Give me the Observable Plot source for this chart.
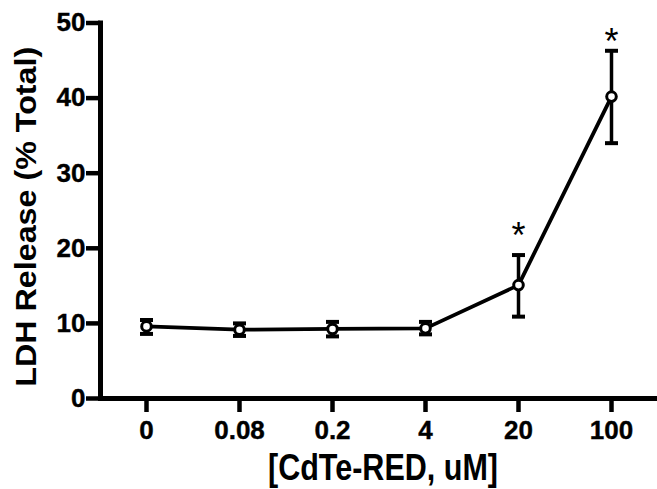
<!DOCTYPE html>
<html>
<head>
<meta charset="utf-8">
<script src="https://cdn.jsdelivr.net/npm/d3@7"></script>
<script src="https://cdn.jsdelivr.net/npm/@observablehq/plot@0.6"></script>
<style>
  html, body { margin: 0; padding: 0; background: #fff; }
  #chart svg { display: block; }
</style>
</head>
<body>
<div id="chart"></div>
<script>
// Data
const concentrations = ["0", "0.08", "0.2", "4", "20", "100"];
const meanRelease = [9.6, 9.16, 9.26, 9.34, 15.1, 40.2];
const upperRelease = [10.45, 10.0, 10.2, 10.2, 19.1, 46.3];
const lowerRelease = [8.6, 8.33, 8.27, 8.54, 10.9, 34.0];
const sigConcentrations = ["20", "100"];
const sigMarkY = [22.8, 48.6];
const sigLabels = ["*", "*"];
const yTicks = [0, 10, 20, 30, 40, 50];
const xTitle = "[CdTe-RED, uM]";
const yTitle = "LDH Release (% Total)";

const rows = concentrations.map((c, i) => ({
  conc: c, mean: meanRelease[i], hi: upperRelease[i], lo: lowerRelease[i]
}));
const sig = sigConcentrations.map((c, i) => ({conc: c, y: sigMarkY[i], label: sigLabels[i]}));

const font = "'Liberation Sans', Arial, sans-serif";

// horizontal cap symbol for error bars
const capSymbol = {
  draw(context, size) {
    const w = Math.sqrt(size / Math.PI);
    context.moveTo(-w, 0);
    context.lineTo(w, 0);
  }
};

const chart = Plot.plot({
  width: 657,
  height: 489,
  marginLeft: 100,
  marginRight: 0,
  marginTop: 22.5,
  marginBottom: 91,
  style: {fontFamily: font, background: "#fff", color: "#000"},
  x: {type: "point", domain: concentrations, padding: 0.475, align: 0.5},
  y: {domain: [0, 50]},
  marks: [
    Plot.axisY({ticks: yTicks, tickSize: 14, tickPadding: 1, strokeWidth: 4.5, fontSize: 26, fontWeight: "bold", label: null, className: "yax"}),
    Plot.axisX({tickSize: 14, tickPadding: 8, strokeWidth: 4.5, fontSize: 26, fontWeight: "bold", label: null, className: "xax"}),
    Plot.frame({anchor: "left", strokeWidth: 5}),
    Plot.frame({anchor: "bottom", strokeWidth: 5}),
    Plot.ruleX(rows, {x: "conc", y1: "lo", y2: "hi", strokeWidth: 3.5, stroke: "#000"}),
    Plot.dot(rows, {x: "conc", y: "hi", symbol: capSymbol, r: 6.5, fill: "none", strokeWidth: 4, stroke: "#000"}),
    Plot.dot(rows, {x: "conc", y: "lo", symbol: capSymbol, r: 6.5, fill: "none", strokeWidth: 4, stroke: "#000"}),
    Plot.line(rows, {x: "conc", y: "mean", strokeWidth: 3.8, stroke: "#000"}),
    Plot.dot(rows, {x: "conc", y: "mean", r: 4.8, stroke: "#000", strokeWidth: 3, fill: "#fff"}),
    Plot.text(sig, {x: "conc", y: "y", text: "label", fontSize: 36, lineAnchor: "middle", dy: 9, fill: "#000"}),
    Plot.text([yTitle], {frameAnchor: "left", textAnchor: "middle", lineAnchor: "middle", rotate: -90, dx: -74, dy: 6, fontSize: 30, fontWeight: "bold", fill: "#000", className: "ytitle"}),
    Plot.text([xTitle], {frameAnchor: "bottom", textAnchor: "middle", dx: 4, dy: 70, lineAnchor: "middle", fontSize: 36, fontWeight: "bold", fill: "#000", className: "xtitle"})
  ]
});
// fit the axis titles to the lengths they have in the reference
d3.select(chart).selectAll(".ytitle text").attr("textLength", 340).attr("lengthAdjust", "spacingAndGlyphs");
d3.select(chart).selectAll(".xtitle text").attr("textLength", 230).attr("lengthAdjust", "spacingAndGlyphs");
d3.select(chart).selectAll(".yax text, .xax text").attr("stroke", "#000").attr("stroke-width", 0.4);
document.getElementById("chart").appendChild(chart);
</script>
</body>
</html>
